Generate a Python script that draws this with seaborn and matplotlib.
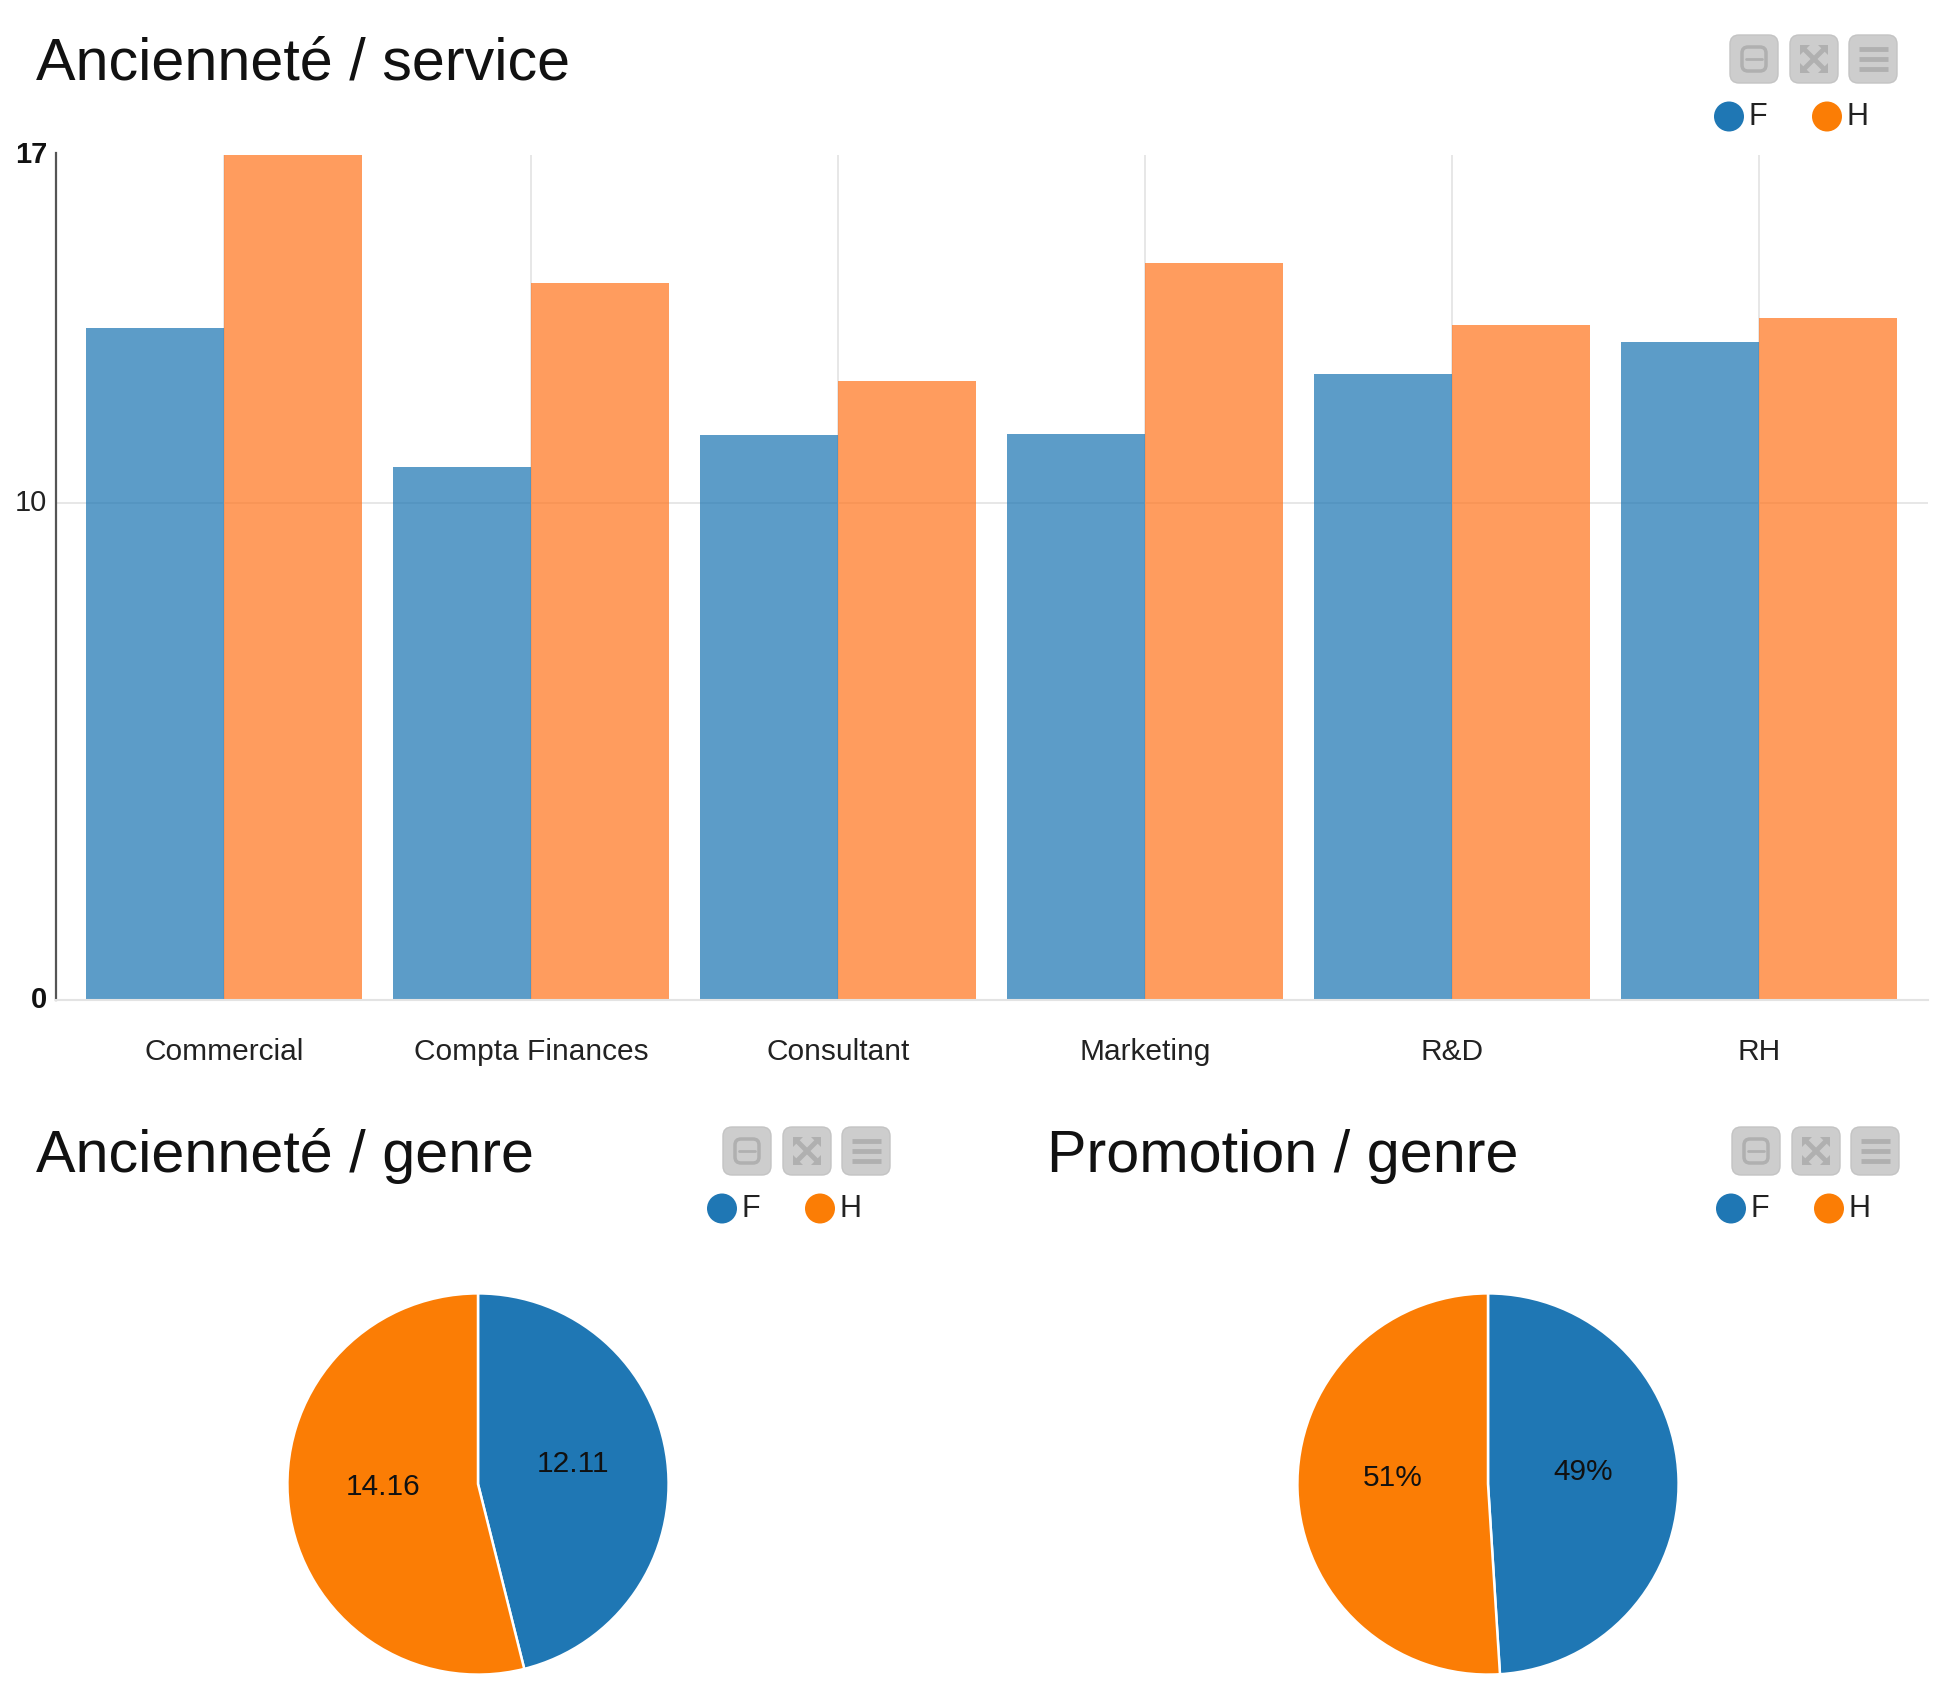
import pandas as pd
import seaborn as sns
import matplotlib
matplotlib.use('Agg')
import matplotlib.pyplot as plt
from matplotlib.patches import FancyBboxPatch, Circle, Polygon
from matplotlib.transforms import ScaledTranslation

# data
services = ['Commercial', 'Compta Finances', 'Consultant', 'Marketing', 'R&D', 'RH']
genres = ['F', 'H']
anc_f = [13.51, 10.72, 11.37, 11.39, 12.59, 13.24]
anc_h = [17.0, 14.43, 12.46, 14.83, 13.58, 13.73]
yticks = [0, 10, 17]

anc_genre = [12.11, 14.16]
anc_genre_labels = ['12.11', '14.16']
promo_genre = [49, 51]
promo_genre_labels = ['49%', '51%']

BLUE = '#1f77b4'
ORANGE = '#fb7d05'
BAR_ORANGE = '#ff7722'
W, H = 1938, 1704

sns.set_theme(style='white')
plt.rcParams['font.family'] = ['Liberation Sans', 'DejaVu Sans']

fig = plt.figure(figsize=(W / 100, H / 100), dpi=100, facecolor='white')


def rect(x0, y0, x1, y1):
    return [x0 / W, 1 - y1 / H, (x1 - x0) / W, (y1 - y0) / H]


# bars
df = pd.DataFrame({
    'service': services * 2,
    'genre': ['F'] * len(services) + ['H'] * len(services),
    'value': anc_f + anc_h,
})
ax = fig.add_axes(rect(56, 155, 1928, 1000))
sns.barplot(data=df, x='service', y='value', hue='genre', order=services, hue_order=genres,
            palette=[BLUE, BAR_ORANGE], width=0.9, gap=0, saturation=1, alpha=0.73,
            linewidth=0, legend=False, ax=ax)
ax.set_xlim(-0.547, 5.55)
ax.set_ylim(0, 17)
ax.set_xlabel('')
ax.set_ylabel('')
ax.set_yticks(yticks)
ax.set_yticklabels([str(t) for t in yticks], fontsize=21, color='#222222')
ax.tick_params(axis='y', length=0, pad=6.5)
ax.tick_params(axis='x', length=0, pad=27, labelsize=21.5, labelcolor='#222222')
# tick_params resets label transforms, so nudge the labels up after it
shift = ScaledTranslation(0, 3 / 100, fig.dpi_scale_trans)
for lab, t in zip(ax.get_yticklabels(), yticks):
    lab.set_transform(lab.get_transform() + shift)
    if t != 10:
        lab.set_fontweight('bold')
        lab.set_color('#111111')
ax.set_axisbelow(True)
ax.grid(True, color='#e3e3e3', linewidth=1.2)
# only the 10 line runs across, not the one at the top
for gl, t in zip(ax.get_ygridlines(), yticks):
    if t != 10:
        gl.set_visible(False)
sns.despine(ax=ax, top=True, right=True)
ax.spines['left'].set_color('#555555')
ax.spines['left'].set_linewidth(1.6)
ax.spines['left'].set_bounds(0, 17.05)
ax.spines['bottom'].set_color('#e3e3e3')
ax.spines['bottom'].set_linewidth(1.5)


# pies
def draw_pie(cx, cy, r, values, labels):
    pax = fig.add_axes(rect(cx - r, cy - r, cx + r, cy + r))
    wedges, texts, autos = pax.pie(values, colors=[BLUE, ORANGE], startangle=90, counterclock=False,
                                   autopct='%1.0f', pctdistance=0.5,
                                   wedgeprops={'edgecolor': 'white', 'linewidth': 1.8})
    pax.set_xlim(-1.01, 1.01)
    pax.set_ylim(-1.01, 1.01)
    for a, lab in zip(autos, labels):
        a.set_text(lab)
        a.set_fontsize(21.5)
        a.set_color('#111111')
        x, y = a.get_position()
        a.set_position((x, y + 0.045))
    return pax


draw_pie(478, 1484, 192.5, anc_genre, anc_genre_labels)
draw_pie(1488, 1484, 192.5, promo_genre, promo_genre_labels)

# titles, toolbars and legends, in pixel coordinates
ov = fig.add_axes([0, 0, 1, 1], facecolor='none')
ov.set_xlim(0, W)
ov.set_ylim(H, 0)
ov.axis('off')


def toolbar(dx, dy):
    gray, icon = '#cdcdcd', '#b0b0b0'
    for bx in (1730, 1790, 1849):
        ov.add_patch(FancyBboxPatch((bx + dx + 6, 35 + dy + 6), 36, 36,
                                    boxstyle='round,pad=6,rounding_size=9',
                                    fc=gray, ec='#c4c4c4', lw=1))
    # minimise icon
    ov.add_patch(FancyBboxPatch((1742 + dx, 47 + dy), 24, 24,
                                boxstyle='round,pad=0,rounding_size=6',
                                fc='none', ec=icon, lw=2.5))
    ov.plot([1746 + dx, 1762 + dx], [59 + dy, 59 + dy], color=icon, lw=2)
    # fullscreen icon
    x0, x1, y0, y1 = 1800 + dx, 1828 + dx, 45 + dy, 73 + dy
    ov.plot([x0 + 3, x1 - 3], [y0 + 3, y1 - 3], color=icon, lw=3.5)
    ov.plot([x0 + 3, x1 - 3], [y1 - 3, y0 + 3], color=icon, lw=3.5)
    for sx, sy in ((x0, y0), (x1, y0), (x0, y1), (x1, y1)):
        ux = 10 if sx == x0 else -10
        uy = 10 if sy == y0 else -10
        ov.add_patch(Polygon([(sx, sy), (sx + ux, sy), (sx, sy + uy)], fc=icon, ec='none'))
    # menu icon
    for ly in (49, 59, 69):
        ov.plot([1859 + dx, 1888 + dx], [ly + dy, ly + dy], color=icon, lw=3.5, solid_capstyle='butt')


def legend(dx, dy):
    for g, c, cx in zip(genres, [BLUE, ORANGE], (1729, 1827)):
        ov.add_patch(Circle((cx + dx, 116.5 + dy), 15, fc=c, ec='none'))
        ov.text(cx + dx + 20, 117 + dy, g, fontsize=22, color='#222222', ha='left', va='center')


titles = [('Ancienneté / service', 36, 64), ('Ancienneté / genre', 36, 1156), ('Promotion / genre', 1047, 1156)]
for txt, tx, ty in titles:
    ov.text(tx, ty, txt, fontsize=42.7, color='#111111', ha='left', va='center')

for dx, dy in ((0, 0), (-1007, 1092), (2, 1092)):
    toolbar(dx, dy)
    legend(dx, dy)

fig.savefig('out.png', dpi=100)
